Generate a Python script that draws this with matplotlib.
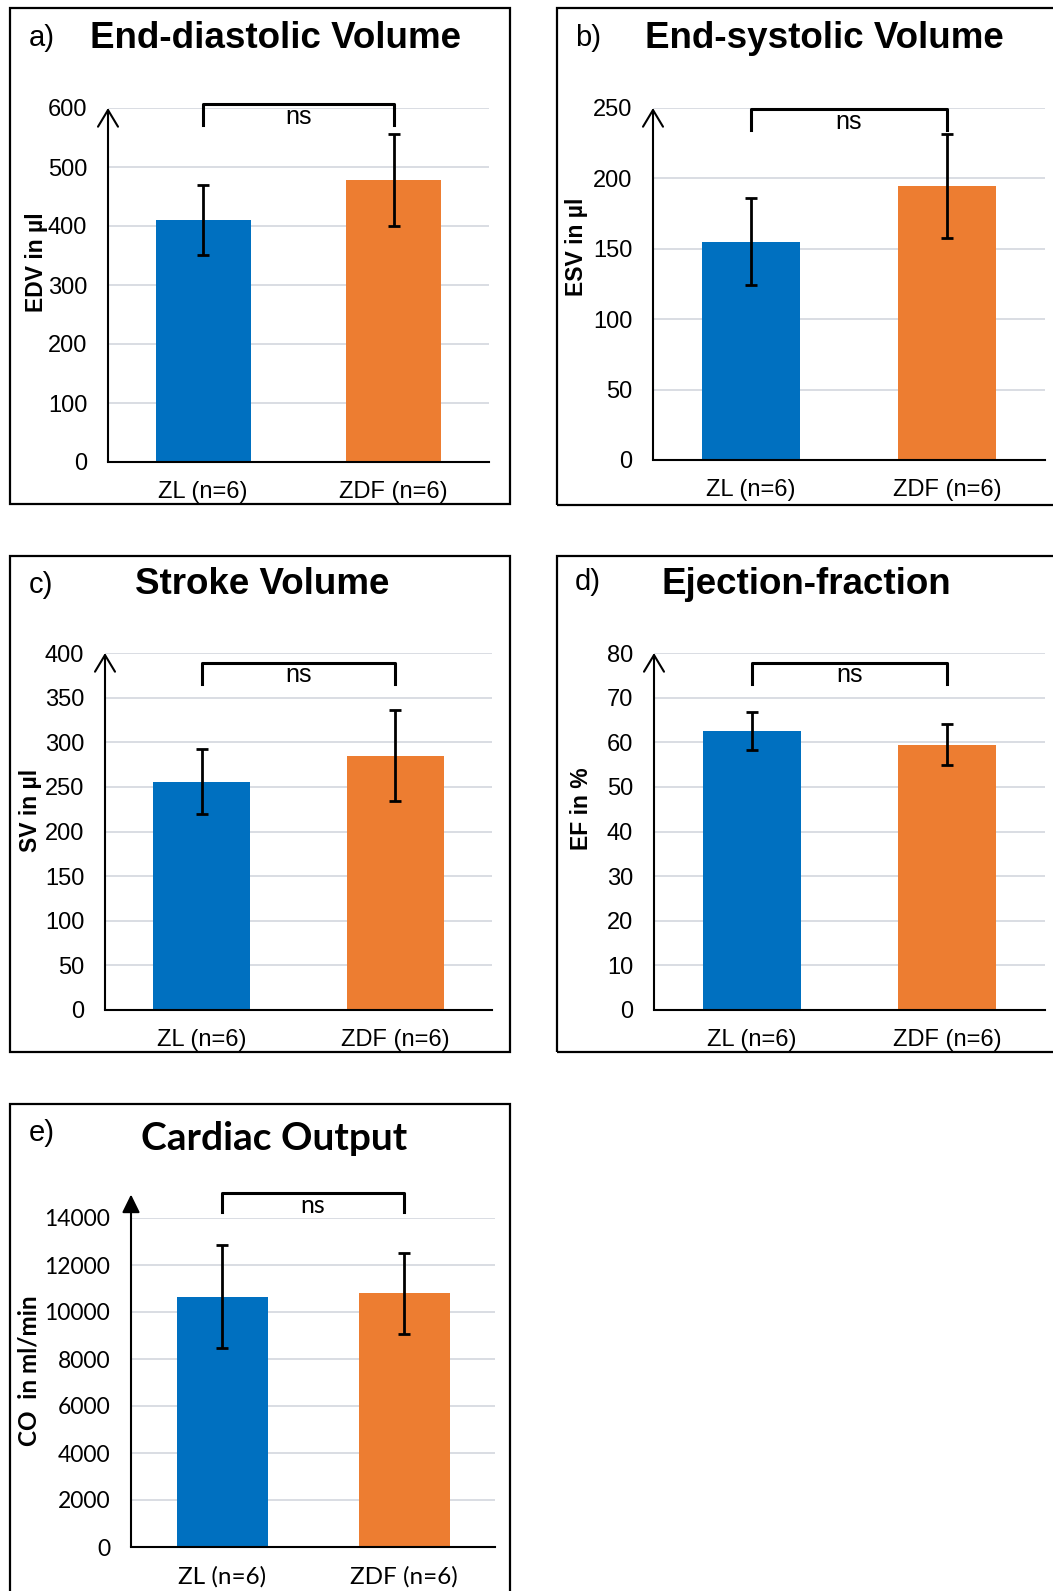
import numpy as np
import matplotlib.pyplot as plt
from matplotlib.patches import Rectangle

W, H = 1053, 1591

groups = ["ZL (n=6)", "ZDF (n=6)"]
bar_colors = ["#0070C0", "#ED7D31"]

# group means and SD per panel
edv_mean = [410, 478]
edv_err = [60, 78]
esv_mean = [155, 194.5]
esv_err = [31, 37]
sv_mean = [256, 285]
sv_err = [36, 51]
ef_mean = [62.5, 59.4]
ef_err = [4.2, 4.6]
co_mean = [10640, 10800]
co_err = [2190, 1725]

titles = ["End-diastolic Volume", "End-systolic Volume", "Stroke Volume",
          "Ejection-fraction", "Cardiac Output"]
letters = ["a)", "b)", "c)", "d)", "e)"]
ylabels = ["EDV in µl", "ESV in µl", "SV in µl", "EF in %", "CO  in ml/min"]
yticks = [np.arange(0, 601, 100), np.arange(0, 251, 50), np.arange(0, 401, 50),
          np.arange(0, 81, 10), np.arange(0, 14001, 2000)]
bracket_top = [606, 249, 389, 77.8, 15050]
arrow_tip = [600, 250, 400, 80, 15000]

means = [edv_mean, esv_mean, sv_mean, ef_mean, co_mean]
errs = [edv_err, esv_err, sv_err, ef_err, co_err]

# layout in pixels: axes box (l, t, r, b), frame box, title centre, letter pos, ylabel pos
axes_px = [(108, 108, 489, 462), (653, 108, 1045, 460), (105, 653, 492, 1010),
           (654, 653, 1045, 1010), (131, 1218, 495, 1547)]
frame_px = [(10, 8, 510, 504), (557, 8, 1065, 505), (10, 556, 510, 1052),
            (557, 556, 1065, 1052), (10, 1104, 510, 1605)]
title_px = [(276, 38), (824, 38), (262, 585), (806, 585), (274, 1138)]
letter_px = [(29, 38), (575, 38), (29, 585), (575, 582), (29, 1133)]
ylabel_px = [(37, 262), (576, 247), (30, 810), (582, 809), (29, 1371)]

arial = "Liberation Sans"
calibri = "Lato"

fig = plt.figure(figsize=(W / 100, H / 100), dpi=100)


def fx(x):
    return x / W


def fy(y):
    return 1 - y / H


for i in range(5):
    fam = calibri if i == 4 else arial
    xtick_fs = 17.5 if i == 4 else 17
    ytick_fs = 16.5 if i == 4 else 17
    l, t, r, b = axes_px[i]
    ax = fig.add_axes([fx(l), fy(b), (r - l) / W, (b - t) / H])
    x = np.arange(len(groups))
    ax.bar(x, means[i], width=0.5, color=bar_colors, zorder=2)
    ax.errorbar(x, means[i], yerr=errs[i], fmt="none", ecolor="black",
                elinewidth=2, capsize=4, capthick=2, zorder=3)
    ax.set_xlim(-0.5, 1.5)
    ymax = yticks[i][-1]
    ax.set_ylim(0, ymax)
    ax.set_yticks(yticks[i])
    ax.set_yticklabels([str(v) for v in yticks[i]], fontsize=ytick_fs, family=fam)
    ax.set_xticks(x)
    ax.set_xticklabels(groups, fontsize=xtick_fs, family=fam)
    ax.tick_params(axis="y", length=0, pad=15)
    ax.tick_params(axis="x", length=0, pad=14)
    ax.grid(axis="y", color="#D9DDE3", linewidth=1.4, zorder=0)
    ax.set_axisbelow(True)
    for s in ["left", "top", "right"]:
        ax.spines[s].set_visible(False)
    ax.spines["bottom"].set_linewidth(1.5)
    ax.spines["bottom"].set_zorder(4)

    # y axis drawn as an arrow
    if i == 4:
        style = "-|>,head_length=0.55,head_width=0.27"
    else:
        style = "->,head_length=0.6,head_width=0.36"
    ax.annotate("", xy=(-0.5, arrow_tip[i]), xytext=(-0.5, 0),
                arrowprops=dict(arrowstyle=style, lw=1.5, color="black",
                                shrinkA=0, shrinkB=0, mutation_scale=20),
                annotation_clip=False, zorder=5)

    # significance bracket
    top = bracket_top[i]
    leg = top - 0.058 * ymax
    ax.plot([0, 0, 1, 1], [leg, top, top, leg], color="black", lw=2.2,
            clip_on=False, zorder=5)
    ax.annotate("ns", xy=(0.5, top), xytext=(0, -9), textcoords="offset points",
                ha="center", va="center", fontsize=18, family=fam,
                annotation_clip=False)

    # frame, title, letter, y label
    fl, ft, fr, fb = frame_px[i]
    fig.patches.append(Rectangle((fx(fl), fy(fb)), (fr - fl) / W, (fb - ft) / H,
                                 transform=fig.transFigure, fill=False,
                                 edgecolor="black", linewidth=1.6))
    tx, ty = title_px[i]
    fig.text(fx(tx), fy(ty), titles[i], ha="center", va="center",
             fontsize=28 if i == 4 else 26.5, fontweight="bold", family=fam)
    lx, ly = letter_px[i]
    fig.text(fx(lx), fy(ly), letters[i], ha="left", va="center",
             fontsize=21, family=arial)
    yx, yy = ylabel_px[i]
    fig.text(fx(yx), fy(yy), ylabels[i], ha="center", va="center", rotation=90,
             fontsize=17.5 if i == 4 else 16.5, fontweight="bold", family=fam)

fig.savefig("out.png", dpi=100)
